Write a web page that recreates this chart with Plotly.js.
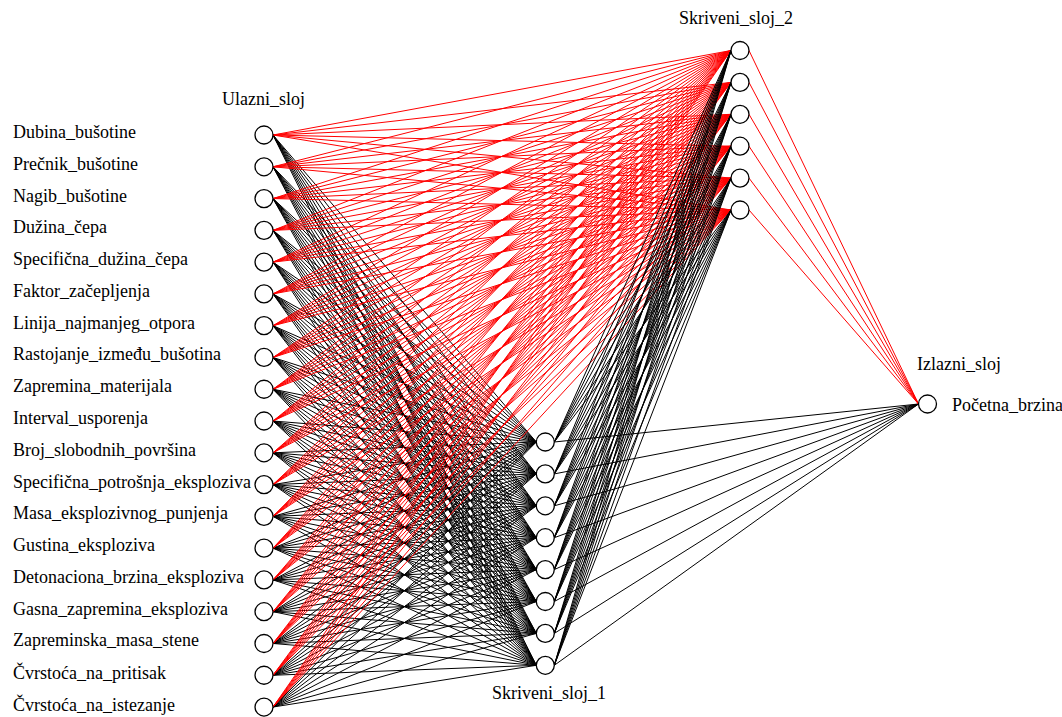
<!DOCTYPE html>
<html>
<head>
<meta charset="utf-8">
<script src="https://cdn.plot.ly/plotly-3.0.1.min.js"></script>
<style>html,body{margin:0;padding:0;background:#fff;}#chart{width:1062px;height:717px;}</style>
</head>
<body>
<div id="chart"></div>
<script>
// ---- data ----
const inputLabels = [
  'Dubina_bušotine','Prečnik_bušotine','Nagib_bušotine','Dužina_čepa',
  'Specifična_dužina_čepa','Faktor_začepljenja','Linija_najmanjeg_otpora',
  'Rastojanje_između_bušotina','Zapremina_materijala','Interval_usporenja',
  'Broj_slobodnih_površina','Specifična_potrošnja_eksploziva','Masa_eksplozivnog_punjenja',
  'Gustina_eksploziva','Detonaciona_brzina_eksploziva','Gasna_zapremina_eksploziva',
  'Zapreminska_masa_stene','Čvrstoća_na_pritisak','Čvrstoća_na_istezanje'
];
const hidden1Labels = ['','','','','','','',''];
const hidden2Labels = ['','','','','',''];
const outputLabels = ['Početna_brzina'];
const layerTitles = ['Ulazni_sloj','Skriveni_sloj_1','Skriveni_sloj_2','Izlazni_sloj'];
// connections: [fromLayer, toLayer, colour]
const connections = [[0,1,'black'],[0,2,'red'],[1,2,'black'],[1,3,'black'],[2,3,'red']];

// ---- geometry (layout only) ----
const layers = [inputLabels, hidden1Labels, hidden2Labels, outputLabels];
const geo = {
  x: [264, 545.3, 740, 927.5],
  y0: [135, 442, 50.5, 404],
  step: [31.78, 31.9, 31.9, 0],
  r: 9
};
function nodePos(l, i){ return [geo.x[l], geo.y0[l] + i*geo.step[l]]; }

const traces = [];
connections.forEach(function(c){
  const a = c[0], b = c[1];
  const xs = [], ys = [];
  layers[a].forEach(function(_, i){
    layers[b].forEach(function(_, j){
      const p = nodePos(a, i), q = nodePos(b, j);
      xs.push(p[0] + geo.r, q[0] - geo.r, null);
      ys.push(p[1], q[1], null);
    });
  });
  traces.push({type:'scatter', mode:'lines', x:xs, y:ys, hoverinfo:'skip',
    line:{color:c[2], width:1}, showlegend:false});
});

const nx = [], ny = [];
layers.forEach(function(L, l){ L.forEach(function(_, i){ const p = nodePos(l, i); nx.push(p[0]); ny.push(p[1]); }); });
traces.push({type:'scatter', mode:'markers', x:nx, y:ny, hoverinfo:'skip', showlegend:false,
  marker:{symbol:'circle', size:2*geo.r, color:'#ffffff', line:{color:'#000000', width:1.3}}});

const font = {family:'Liberation Serif', size:18, color:'#000'};
const ann = [];
inputLabels.forEach(function(t, i){
  const p = nodePos(0, i);
  ann.push({x:11, y:p[1]-3, text:t, xanchor:'left', yanchor:'middle', showarrow:false, font:font});
});
outputLabels.forEach(function(t, i){
  const p = nodePos(3, i);
  ann.push({x:p[0]+22.5, y:p[1]+1, text:t, xanchor:'left', yanchor:'middle', showarrow:false, font:font});
});
const titlePos = [[263,99,'center'],[549,693,'center'],[736,18,'center'],[915,364,'left']];
layerTitles.forEach(function(t, l){
  ann.push({x:titlePos[l][0], y:titlePos[l][1], text:t, xanchor:titlePos[l][2], yanchor:'middle', showarrow:false, font:font});
});

const layout = {
  width:1062, height:717,
  margin:{l:0, r:0, t:0, b:0},
  paper_bgcolor:'#fff', plot_bgcolor:'#fff',
  xaxis:{range:[0,1062], visible:false, fixedrange:true},
  yaxis:{range:[717,0], visible:false, fixedrange:true},
  annotations:ann,
  showlegend:false
};
Plotly.newPlot('chart', traces, layout, {displayModeBar:false, staticPlot:true});
</script>
</body>
</html>
